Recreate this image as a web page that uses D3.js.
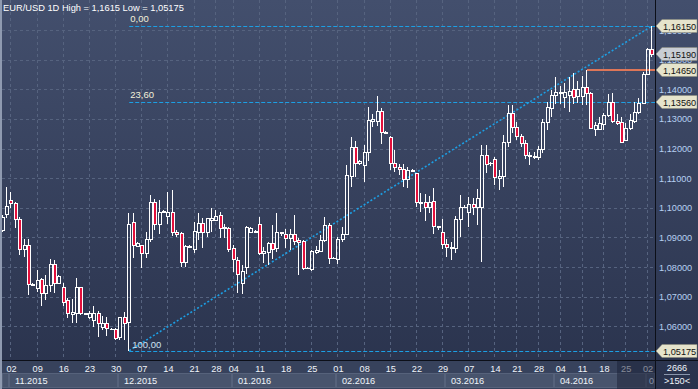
<!DOCTYPE html>
<html>
<head>
<meta charset="utf-8">
<script src="https://cdn.jsdelivr.net/npm/d3@7"></script>
<style>
html,body{margin:0;padding:0;background:#2f3a54;}
svg{display:block;font-family:"Liberation Sans",Arial,sans-serif;}
</style>
</head>
<body>
<svg id="chart" width="698" height="389"></svg>
<script>
// trading days (broker calendar, Sunday sessions in winter)
var dates = [
 "2015-10-29","2015-10-30",
 "2015-11-02","2015-11-03","2015-11-04","2015-11-05","2015-11-06",
 "2015-11-08","2015-11-09","2015-11-10","2015-11-11","2015-11-12","2015-11-13",
 "2015-11-15","2015-11-16","2015-11-17","2015-11-18","2015-11-19","2015-11-20",
 "2015-11-22","2015-11-23","2015-11-24","2015-11-25","2015-11-26","2015-11-27",
 "2015-11-29","2015-11-30","2015-12-01","2015-12-02","2015-12-03","2015-12-04",
 "2015-12-06","2015-12-07","2015-12-08","2015-12-09","2015-12-10","2015-12-11",
 "2015-12-13","2015-12-14","2015-12-15","2015-12-16","2015-12-17","2015-12-18",
 "2015-12-20","2015-12-21","2015-12-22","2015-12-23","2015-12-24",
 "2015-12-27","2015-12-28","2015-12-29","2015-12-30","2015-12-31",
 "2016-01-04","2016-01-05","2016-01-06","2016-01-07","2016-01-08",
 "2016-01-10","2016-01-11","2016-01-12","2016-01-13","2016-01-14","2016-01-15",
 "2016-01-17","2016-01-18","2016-01-19","2016-01-20","2016-01-21","2016-01-22",
 "2016-01-24","2016-01-25","2016-01-26","2016-01-27","2016-01-28","2016-01-29",
 "2016-01-31","2016-02-01","2016-02-02","2016-02-03","2016-02-04","2016-02-05",
 "2016-02-07","2016-02-08","2016-02-09","2016-02-10","2016-02-11","2016-02-12",
 "2016-02-14","2016-02-15","2016-02-16","2016-02-17","2016-02-18","2016-02-19",
 "2016-02-21","2016-02-22","2016-02-23","2016-02-24","2016-02-25","2016-02-26",
 "2016-02-28","2016-02-29","2016-03-01","2016-03-02","2016-03-03","2016-03-04",
 "2016-03-06","2016-03-07","2016-03-08","2016-03-09","2016-03-10","2016-03-11",
 "2016-03-13","2016-03-14","2016-03-15","2016-03-16","2016-03-17","2016-03-18",
 "2016-03-21","2016-03-22","2016-03-23","2016-03-24","2016-03-25",
 "2016-03-28","2016-03-29","2016-03-30","2016-03-31","2016-04-01",
 "2016-04-04","2016-04-05","2016-04-06","2016-04-07","2016-04-08",
 "2016-04-11","2016-04-12","2016-04-13","2016-04-14","2016-04-15",
 "2016-04-18","2016-04-19","2016-04-20","2016-04-21","2016-04-22",
 "2016-04-25","2016-04-26","2016-04-27","2016-04-28","2016-04-29",
 "2016-05-02","2016-05-03"
];
var open = [
 1.0925,1.0978,
 1.1026,1.1015,1.0961,1.0860,1.0874,
 1.0742,1.0728,1.0758,1.0711,1.0739,1.0810,
 1.0747,1.0733,1.0689,1.0643,1.0644,1.0731,
 1.0644,1.0631,1.0621,1.0644,1.0598,1.0610,
 1.0592,1.0590,1.0563,1.0630,1.0613,1.0953,
 1.0871,1.0874,1.0846,1.0894,1.1019,1.0944,
 1.0987,1.0972,1.0985,1.0917,1.0914,1.0816,
 1.0869,1.0860,1.0919,1.0948,1.0919,
 1.0959,1.0959,1.0976,1.0931,1.0933,
 1.0863,1.0824,1.0745,1.0801,1.0919,
 1.0919,1.0944,1.0848,1.0852,1.0880,1.0863,
 1.0914,1.0911,1.0897,1.0911,1.0891,1.0888,
 1.0796,1.0793,1.0852,1.0855,1.0891,1.0942,
 1.0829,1.0827,1.0895,1.0911,1.1108,1.1206,
 1.1150,1.1145,1.1189,1.1293,1.1293,1.1327,
 1.1255,1.1240,1.1152,1.1139,1.1130,1.1096,
 1.1128,1.1116,1.1017,1.1019,1.1004,1.1023,
 1.0938,1.0919,1.0878,1.0863,1.0863,1.0961,
 1.1002,1.0987,1.1013,1.1004,1.1004,1.1178,
 1.1150,1.1164,1.1100,1.1107,1.1223,1.1319,
 1.1272,1.1242,1.1218,1.1180,1.1175,
 1.1170,1.1198,1.1291,1.1338,1.1381,
 1.1387,1.1375,1.1381,1.1401,1.1379,
 1.1379,1.1409,1.1387,1.1266,1.1266,
 1.1282,1.1313,1.1356,1.1293,1.1289,
 1.1229,1.1268,1.1293,1.1322,1.1353,
 1.1451,1.1536
];
var high = [
 1.0976,1.1069,
 1.1054,1.1018,1.0970,1.0894,1.0894,
 1.0745,1.0790,1.0762,1.0773,1.0827,1.0824,
 1.0773,1.0745,1.0694,1.0692,1.0762,1.0733,
 1.0646,1.0650,1.0669,1.0650,1.0636,1.0630,
 1.0594,1.0593,1.0632,1.0647,1.0981,1.0981,
 1.0885,1.0876,1.0919,1.1043,1.1030,1.1026,
 1.0993,1.1054,1.1060,1.0925,1.0919,1.0874,
 1.0874,1.0953,1.0981,1.0964,1.0967,
 1.0998,1.0993,1.0987,1.0944,1.0936,
 1.0874,1.0834,1.0807,1.0940,1.0936,
 1.0925,1.0970,1.0867,1.0885,1.0942,1.0981,
 1.0919,1.0927,1.0927,1.0976,1.0897,1.0891,
 1.0799,1.0857,1.0870,1.0908,1.0970,1.0948,
 1.0834,1.0902,1.0936,1.1145,1.1240,1.1226,
 1.1161,1.1212,1.1341,1.1316,1.1378,1.1336,
 1.1258,1.1243,1.1195,1.1148,1.1148,1.1137,
 1.1130,1.1118,1.1049,1.1047,1.1040,1.1066,
 1.0940,1.0961,1.0894,1.0885,1.0972,1.1043,
 1.1008,1.1037,1.1032,1.1062,1.1212,1.1212,
 1.1154,1.1173,1.1128,1.1246,1.1347,1.1347,
 1.1291,1.1250,1.1228,1.1190,1.1190,
 1.1210,1.1300,1.1356,1.1398,1.1443,
 1.1412,1.1420,1.1443,1.1454,1.1428,
 1.1445,1.1465,1.1390,1.1291,1.1308,
 1.1319,1.1383,1.1387,1.1316,1.1308,
 1.1285,1.1316,1.1356,1.1370,1.1458,
 1.1539,1.1615
];
var low = [
 1.0919,1.0965,
 1.0998,1.0933,1.0841,1.0833,1.0706,
 1.0736,1.0717,1.0669,1.0689,1.0717,1.0711,
 1.0745,1.0668,1.0627,1.0611,1.0611,1.0638,
 1.0640,1.0624,1.0598,1.0563,1.0588,1.0566,
 1.0588,1.0555,1.0555,1.0553,1.05175,1.0831,
 1.0869,1.0796,1.0829,1.0885,1.0925,1.0910,
 1.0981,1.0944,1.0906,1.0900,1.0801,1.0801,
 1.0866,1.0846,1.0891,1.0865,1.0902,
 1.0919,1.0955,1.0897,1.0897,1.0852,
 1.0782,1.0711,1.0709,1.0775,1.0914,
 1.0916,1.0841,1.0815,1.0807,1.0827,1.0852,
 1.0906,1.0865,1.0857,1.0874,1.0773,1.0790,
 1.0793,1.0787,1.0845,1.0852,1.0885,1.0809,
 1.0826,1.0809,1.0885,1.0908,1.1071,1.1105,
 1.1145,1.1086,1.1158,1.1274,1.1277,1.1214,
 1.1250,1.1128,1.1122,1.1111,1.1069,1.1066,
 1.1122,1.1002,1.0987,1.0956,1.0983,1.0911,
 1.0925,1.0860,1.0835,1.0824,1.0846,1.0902,
 1.0998,1.0936,1.0976,1.0942,1.0818,1.1116,
 1.1140,1.1077,1.1060,1.1071,1.1204,1.1252,
 1.1229,1.1205,1.1165,1.1145,1.1165,
 1.1160,1.1185,1.1263,1.1308,1.1349,
 1.1349,1.1336,1.1325,1.1349,1.1353,
 1.1347,1.1347,1.1268,1.1243,1.1263,
 1.1263,1.1308,1.1285,1.1280,1.1218,
 1.1226,1.1263,1.1285,1.1316,1.1349,
 1.1448,1.1510
];
var close = [
 1.0970,1.1006,
 1.1015,1.0961,1.0860,1.0874,1.0742,
 1.0740,1.0756,1.0711,1.0739,1.0810,1.0747,
 1.0771,1.0683,1.0644,1.0648,1.0731,1.0644,
 1.0642,1.0646,1.0644,1.0612,1.0612,1.0593,
 1.0591,1.0562,1.0630,1.0610,1.0945,1.0874,
 1.0882,1.0846,1.0894,1.1019,1.0944,1.0987,
 1.0989,1.0987,1.0919,1.0911,1.0816,1.0871,
 1.0871,1.0922,1.0948,1.0919,1.0964,
 1.0964,1.0972,1.0931,1.0936,1.0861,
 1.0827,1.0775,1.0787,1.0936,1.0933,
 1.0922,1.0848,1.0854,1.0880,1.0861,1.0919,
 1.0919,1.0897,1.0911,1.0889,1.0883,1.0796,
 1.0796,1.0854,1.0857,1.0891,1.0942,1.0829,
 1.0831,1.0895,1.0911,1.1111,1.1206,1.1150,
 1.1158,1.1189,1.1296,1.1299,1.1327,1.1255,
 1.1253,1.1152,1.1139,1.1130,1.1096,1.1128,
 1.1126,1.1021,1.1021,1.1004,1.1021,1.0938,
 1.0936,1.0878,1.0869,1.0869,1.0961,1.1002,
 1.1004,1.1013,1.1002,1.1032,1.1178,1.1148,
 1.1152,1.1103,1.1107,1.1223,1.1319,1.1272,
 1.1242,1.1218,1.1180,1.1175,1.1170,
 1.1198,1.1291,1.1341,1.1381,1.1390,
 1.1392,1.1390,1.1394,1.1375,1.1401,
 1.1409,1.1387,1.1270,1.1280,1.1285,
 1.1313,1.1356,1.1293,1.1285,1.1223,
 1.1268,1.1296,1.1322,1.1353,1.1451,
 1.1536,1.1519
];

var priceTicks = [1.06,1.07,1.08,1.09,1.10,1.11,1.12,1.13,1.14,1.15,1.16];
var fibLow = 1.05175, fibHigh = 1.1615;
var fibStart = "2015-12-03", fibEnd = "2016-05-03";
var fibLevels = [0, 23.6, 100];
var resistance = 1.1465, resistanceStart = "2016-04-12";
var lastPrice = 1.1519;
var barsCount = 2666, barsShown = ">150<";
var title = "EUR/USD 1D High = 1,1615 Low = 1,05175";

var W = 698, H = 389;
var plot = {left: 2, right: 655, top: 0, bottom: 360};

var svg = d3.select("#chart");
var defs = svg.append("defs");
var grad = defs.append("linearGradient").attr("id","bg").attr("x1",0).attr("y1",0).attr("x2",0).attr("y2",1);
grad.append("stop").attr("offset","0%").attr("stop-color","#434f6d");
grad.append("stop").attr("offset","100%").attr("stop-color","#29324c");

svg.append("rect").attr("width",W).attr("height",H).attr("fill","url(#bg)");

var parse = d3.timeParse("%Y-%m-%d");
var x = d3.scalePoint().domain(dates).range([2.78, 652.4]);
var y = d3.scaleLinear().domain([fibLow, fibHigh]).range([350.7, 25.7]);
var comma = function(v, n){ return d3.format("." + n + "f")(v).replace(".", ","); };

// grid
var grid = svg.append("g").attr("stroke","#56637f").attr("stroke-dasharray","3,3").attr("shape-rendering","crispEdges");
grid.selectAll("line.h").data(priceTicks).enter().append("line")
  .attr("x1",plot.left).attr("x2",plot.right)
  .attr("y1",function(d){return Math.round(y(d))+0.5;})
  .attr("y2",function(d){return Math.round(y(d))+0.5;});
var mondays = dates.filter(function(d){ return parse(d).getDay() === 1; });
grid.selectAll("line.v").data(mondays).enter().append("line")
  .attr("x1",function(d){return Math.round(x(d))-0.5;})
  .attr("x2",function(d){return Math.round(x(d))-0.5;})
  .attr("y1",plot.top).attr("y2",plot.bottom);

// fibonacci
var fx0 = x(fibStart), fx1 = plot.right;
var fib = svg.append("g");
fib.selectAll("line").data(fibLevels).enter().append("line")
  .attr("x1",fx0).attr("x2",fx1)
  .attr("y1",function(d){return Math.round(y(fibHigh-(fibHigh-fibLow)*d/100))+0.5;})
  .attr("y2",function(d){return Math.round(y(fibHigh-(fibHigh-fibLow)*d/100))+0.5;})
  .attr("stroke","#1c9fe4").attr("stroke-dasharray","4,2").attr("stroke-width",1);
fib.append("line")
  .attr("x1",x(fibStart)).attr("y1",y(fibLow))
  .attr("x2",x(fibEnd)).attr("y2",y(fibHigh))
  .attr("stroke","#1c9fe4").attr("stroke-width",1.6).attr("stroke-dasharray","2,2");
fib.selectAll("text").data(fibLevels).enter().append("text")
  .attr("x",function(d){return d===100?fx0+3:fx0+1;})
  .attr("y",function(d){return Math.round(y(fibHigh-(fibHigh-fibLow)*d/100)) + (d===100?-3:-4);})
  .attr("font-size",9.5).attr("fill",function(d){return d===100?"#cfe0f2":"#f2f0da";})
  .text(function(d){return comma(d,2);});

// resistance line
svg.append("line")
  .attr("x1",x(resistanceStart)).attr("x2",plot.right)
  .attr("y1",y(resistance)).attr("y2",y(resistance))
  .attr("stroke","#de7658").attr("stroke-width",2);

// candles
var candles = svg.append("g").attr("shape-rendering","crispEdges");
dates.forEach(function(d,i){
  var cx = Math.round(x(d));
  var top = Math.round(y(Math.max(open[i],close[i])));
  var bot = Math.round(y(Math.min(open[i],close[i])));
  var hi = Math.round(y(high[i])), lo = Math.round(y(low[i]));
  var up = close[i] >= open[i];
  var g = candles.append("g");
  g.append("line").attr("x1",cx-0.5).attr("x2",cx-0.5).attr("y1",hi).attr("y2",top).attr("stroke","#ffffff");
  g.append("line").attr("x1",cx-0.5).attr("x2",cx-0.5).attr("y1",bot).attr("y2",lo).attr("stroke","#ffffff");
  if (bot - top < 1) {
    g.append("line").attr("x1",cx-2).attr("x2",cx+2).attr("y1",top+0.5).attr("y2",top+0.5).attr("stroke","#ffffff");
  } else {
    g.append("rect").attr("x",cx-1.5).attr("y",top+0.5).attr("width",3).attr("height",bot-top)
      .attr("fill",up?"none":"#e3103c").attr("stroke","#ffffff").attr("stroke-width",1);
  }
});

// title
svg.append("text").attr("x",3).attr("y",11).attr("font-size",9.3).attr("fill","#ffffff").text(title);

// bottom axis
var axisB = svg.append("g");
axisB.append("rect").attr("x",0).attr("y",plot.bottom).attr("width",plot.right).attr("height",H-plot.bottom).attr("fill","#37425c");
var months = [];
dates.forEach(function(d,i){
  var m = d.slice(0,7);
  if (!months.length || months[months.length-1].key !== m) months.push({key:m, first:d});
});
months.forEach(function(m,k){
  var x0 = k===0 ? 2 : Math.round(x(m.first))-2;
  var x1 = k<months.length-1 ? Math.round(x(months[k+1].first))-3 : plot.right-1;
  axisB.append("rect").attr("x",x0+0.5).attr("y",373.5).attr("width",Math.max(0,x1-x0)).attr("height",14)
    .attr("fill","#48546d").attr("stroke","#56627b").attr("shape-rendering","crispEdges");
  // label only when the month block is wide enough
  if (k>0 && x1-x0 > 45) {
    var dt = parse(m.first);
    axisB.append("text").attr("x",x0+6).attr("y",384).attr("font-size",9.2).attr("fill","#f0f4fa")
      .text(d3.timeFormat("%m.%Y")(dt));
  }
});
axisB.selectAll("text.day").data(mondays).enter().append("text")
  .attr("x",function(d){return x(d);}).attr("y",372).attr("text-anchor","middle")
  .attr("font-size",9.2).attr("fill","#f0f4fa")
  .text(function(d){return d3.timeFormat("%d")(parse(d));});
axisB.append("rect").attr("x",617).attr("y",361).attr("width",38).attr("height",28).attr("fill","#1a2035").attr("opacity",0.5);
axisB.append("text").attr("x",649).attr("y",384).attr("font-size",9).attr("fill","#8a96ac").text("0");

// right axis
var axisR = svg.append("g");
axisR.selectAll("text").data(priceTicks).enter().append("text")
  .attr("x",659).attr("y",function(d){return y(d)+3.5;})
  .attr("font-size",9.2).attr("fill","#b6d0f2")
  .text(function(d){return comma(d,5);});

// separators
svg.append("line").attr("x1",0).attr("x2",W).attr("y1",360.5).attr("y2",360.5).attr("stroke","#0c0f18");
svg.append("line").attr("x1",655.5).attr("x2",655.5).attr("y1",0).attr("y2",H).attr("stroke","#0c0f18");
svg.append("line").attr("x1",1).attr("x2",1).attr("y1",0).attr("y2",H).attr("stroke","#8f9ab0").attr("stroke-width",2);

// price markers
var markers = [
  {v: fibHigh, fill: "#e6e4cc"},
  {v: lastPrice, fill: "#c9cdd4"},
  {v: resistance, fill: "#e6e4cc"},
  {v: fibHigh-(fibHigh-fibLow)*0.236, fill: "#e6e4cc"},
  {v: fibLow, fill: "#e6e4cc"}
];
var mk = svg.append("g").selectAll("g").data(markers).enter().append("g")
  .attr("transform",function(d){return "translate(0,"+Math.round(y(d.v))+")";});
mk.append("path").attr("d","M656,0 L662,-6.5 L697,-6.5 L697,6.5 L662,6.5 Z")
  .attr("fill",function(d){return d.fill;}).attr("stroke","#8a8a78").attr("stroke-width",0.5);
mk.append("text").attr("x",663).attr("y",3.5).attr("font-size",9.2).attr("fill","#111111")
  .text(function(d){return comma(d.v,5);});

// bars info
svg.append("text").attr("x",677).attr("y",371).attr("text-anchor","middle").attr("font-size",9.2).attr("fill","#f0f4fa").text(barsCount);
svg.append("line").attr("x1",664).attr("x2",690).attr("y1",374.5).attr("y2",374.5).attr("stroke","#8a96ac");
svg.append("text").attr("x",677).attr("y",384).attr("text-anchor","middle").attr("font-size",9.2).attr("fill","#f0f4fa").text(barsShown);
</script>
</body>
</html>
